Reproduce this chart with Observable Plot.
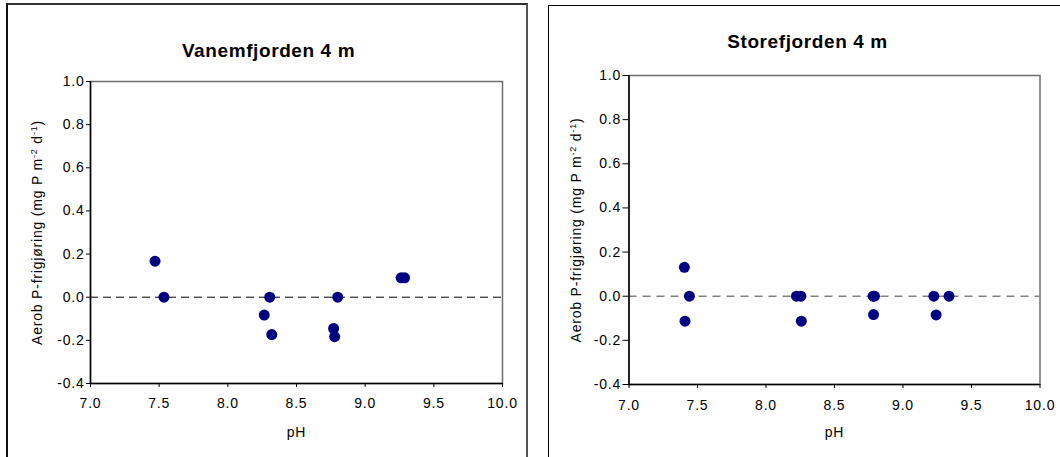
<!DOCTYPE html>
<html><head><meta charset="utf-8">
<script src="https://cdn.jsdelivr.net/npm/d3@7"></script>
<script src="https://cdn.jsdelivr.net/npm/@observablehq/plot@0.6"></script>
<style>
body{margin:0;background:#fff;}
#wrap{position:relative;width:1060px;height:457px;overflow:hidden;background:#fff;}
.box{position:absolute;box-sizing:border-box;background:transparent;}
#wrap svg{position:absolute;top:0;}
</style></head><body><div id="wrap"></div>
<script>
// ---- data ----
const titles = ["Vanemfjorden 4 m", "Storefjorden 4 m"];
const xLabel = "pH";
const yLabelParts = [["Aerob P-frigjøring (mg P m", false], ["-2", true], [" d", false], ["-1", true], [")", false]];
const yLabel = yLabelParts.map(p => p[0]).join("");
const xTicks = [7.0, 7.5, 8.0, 8.5, 9.0, 9.5, 10.0];
const yTicks = [-0.4, -0.2, 0.0, 0.2, 0.4, 0.6, 0.8, 1.0];

const vanemPH = [7.47, 7.535, 8.265, 8.305, 8.32, 8.77, 8.778, 8.80, 9.262, 9.287];
const vanemP  = [0.167, 0.0, -0.083, 0.0, -0.173, -0.145, -0.183, 0.0, 0.09, 0.09];

const storePH = [7.404, 7.441, 7.409, 8.222, 8.255, 8.258, 8.782, 8.792, 8.785, 9.225, 9.336, 9.242];
const storeP  = [0.131, 0.0, -0.113, 0.0, 0.0, -0.113, 0.0, 0.0, -0.083, 0.0, 0.0, -0.085];

const font = "'Liberation Sans', Arial, Helvetica, sans-serif";
const fmt = d => d.toFixed(1);

function panel(ph, p, title, cfg) {
  const data = ph.map((x, i) => ({x, y: p[i]}));
  const svg = Plot.plot({
    width: 530, height: 457,
    marginLeft: cfg.ml, marginRight: cfg.mr, marginTop: cfg.mt, marginBottom: cfg.mb,
    style: {fontFamily: font, fontSize: "14px", background: "transparent", color: "#000", overflow: "visible"},
    x: {domain: [7, 10], ticks: xTicks, tickFormat: fmt},
    y: {domain: [-0.4, 1.0], ticks: yTicks, tickFormat: fmt},
    marks: [
      Plot.frame({stroke: "#6e6e6e", strokeWidth: 1.5}),
      Plot.ruleY([0], {stroke: cfg.dashColor, strokeWidth: cfg.dashWidth, strokeDasharray: cfg.dash}),
      Plot.ruleX([7], {stroke: "#000", strokeWidth: 1.5}),
      Plot.ruleY([-0.4], {stroke: "#000", strokeWidth: 1.5}),
      Plot.axisX({ticks: xTicks, tickFormat: fmt, tickSize: 4, tickPadding: cfg.xpad, label: null, fontSize: 14, stroke: "#000"}),
      Plot.axisY({ticks: yTicks, tickFormat: fmt, tickSize: cfg.ytick, tickPadding: cfg.ypad, label: null, fontSize: 14, stroke: "#000"}),
      Plot.dot(data, {x: "x", y: "y", r: 5.5, fill: "#000080", stroke: "none"}),
      Plot.text([title], {text: d => d, frameAnchor: "top", lineAnchor: "middle", textAnchor: "middle", dx: cfg.tdx, dy: cfg.tdy, fontWeight: "bold", fontSize: 19, fill: "#000"}),
      Plot.text([xLabel], {text: d => d, frameAnchor: "bottom", lineAnchor: "middle", textAnchor: "middle", dy: cfg.xldy, fontSize: 14, fill: "#000"}),
      Plot.text([yLabel], {text: d => d, frameAnchor: "left", lineAnchor: "middle", textAnchor: "middle", rotate: -90, dx: cfg.yldx, fontSize: 14, fill: "#000"})
    ]
  });
  const s = d3.select(svg);
  s.selectAll("text").style("letter-spacing", "0.8px");
  s.selectAll("text").filter(function() { return this.textContent === title; }).style("letter-spacing", "0.6px");
  s.selectAll("text").filter(function() { return this.textContent === yLabel; }).each(function() {
    const t = d3.select(this);
    t.text(null);
    yLabelParts.forEach(([str, sup]) => {
      const ts = t.append("tspan").text(str);
      if (sup) ts.attr("baseline-shift", "super").attr("font-size", "9px");
    });
  });
  svg.style.left = cfg.left + "px";
  return svg;
}

const wrap = document.getElementById("wrap");
wrap.appendChild(panel(vanemPH, vanemP, titles[0], {
  left: 0, ml: 90, mr: 28, mt: 81, mb: 74,
  dashColor: "#000", dashWidth: 1, dash: "8,5",
  xpad: 11, ytick: 4, ypad: 2,
  tdx: -28, tdy: -31, xldy: 49.5, yldx: -53
}));
wrap.appendChild(panel(storePH, storeP, titles[1], {
  left: 530, ml: 98.5, mr: 20.5, mt: 75, mb: 73,
  dashColor: "#808080", dashWidth: 1.5, dash: "8,6",
  xpad: 12, ytick: 6, ypad: 2,
  tdx: -27, tdy: -34, xldy: 48.5, yldx: -52.5
}));

const b1 = document.createElement("div");
b1.className = "box";
Object.assign(b1.style, {left: "6px", top: "3px", width: "522px", height: "480px", borderLeft: "2px solid #111", borderTop: "2px solid #333", borderRight: "2px solid #555"});
wrap.appendChild(b1);
const b2 = document.createElement("div");
b2.className = "box";
Object.assign(b2.style, {left: "548px", top: "5px", width: "540px", height: "480px", borderLeft: "1.5px solid #000", borderTop: "1.5px solid #000"});
wrap.appendChild(b2);
</script>
</body></html>
